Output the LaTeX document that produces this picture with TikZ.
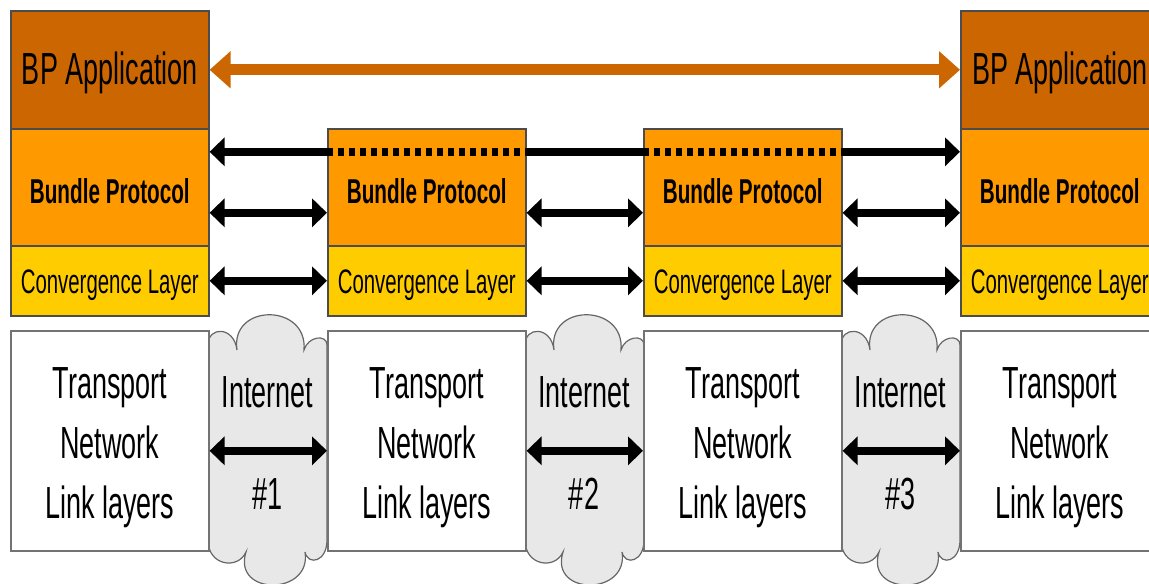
\documentclass[tikz,border=0pt]{standalone}
\usepackage{fontspec}
\setmainfont{Liberation Sans}[FakeStretch=0.6]
\usetikzlibrary{arrows.meta}

\definecolor{appbrown}{HTML}{CC6600}
\definecolor{bporange}{HTML}{FF9900}
\definecolor{clyellow}{HTML}{FFCC00}
\definecolor{cloudgray}{HTML}{E8E8E8}

\tikzset{
    layer/.style = {draw = black!70, line width = 0.8pt, anchor = north west,
        inner sep = 0pt, minimum width = 99pt},
    appbox/.style = {layer, fill = appbrown, minimum height = 59pt,
        text height = 15pt, text depth = 0pt,
        font = \fontsize{22.5}{27}\selectfont},
    bpbox/.style = {layer, fill = bporange, minimum height = 58.5pt,
        text height = 16pt, text depth = 0pt,
        font = \fontsize{17.25}{20}\selectfont\bfseries},
    clbox/.style = {layer, fill = clyellow, minimum height = 35pt,
        text height = 13pt, text depth = 0pt,
        font = \fontsize{17}{20}\selectfont},
    netbox/.style = {layer, fill = white, draw = black!55, minimum height = 110pt,
        align = center, font = \fontsize{22.5}{30}\selectfont},
    netcloud/.style = {fill = cloudgray, draw = black!60, line width = 0.6pt},
    nettext/.style = {font = \fontsize{22.5}{27}\selectfont},
    wire/.style = {line width = 4pt},
    link/.style = {wire, <->},
    dotwire/.style = {wire, dash pattern = on 2.75pt off 2.75pt},
    apparrow/.style = {draw = appbrown, line width = 5.5pt,
        {Triangle[length=10.5pt,width=18pt]}-{Triangle[length=10.5pt,width=18pt]}}
}

\begin{document}
\begin{tikzpicture}[x = 0.5pt, y = -0.5pt, >={Triangle[length=7.5pt,width=14pt]}]
    \useasboundingbox (0,0) rectangle (1149,583);
    \clip (0,0) rectangle (1149,583);

    % the three internets, behind the link layer boxes
    \foreach \x in {208,525,841} {
        \draw[netcloud] (\x,345) .. controls (\x,326) and (\x+26,326) .. (\x+29,350)
            .. controls (\x+22,303) and (\x+100,303) .. (\x+96,350)
            .. controls (\x+100,336) and (\x+119,334) .. (\x+119,345)
            -- (\x+119,540)
            .. controls (\x+119,562) and (\x+100,566) .. (\x+97,552)
            .. controls (\x+104,596) and (\x+24,596) .. (\x+38,552)
            .. controls (\x+30,570) and (\x,566) .. (\x,540) -- cycle;
    }

    % protocol stacks
    \node[appbox] (app1) at (10,10) {BP Application};
    \node[appbox] (app4) at (960,10) {BP Application};
    \foreach \i/\x in {1/10,2/327,3/643,4/960} {
        \node[bpbox] (bp\i) at (\x,128) {Bundle Protocol};
        \node[clbox] (cl\i) at (\x,245) {Convergence Layer};
        \node[netbox] (tn\i) at (\x,330) {\rule{0pt}{22.5pt}Transport\\Network\\Link layers};
    }

    \foreach \i/\cx in {1/267.5,2/584,3/900.5} {
        \node[nettext] (inet\i) at (\cx,392) {Internet};
        \node[nettext] (num\i) at (\cx,494) {\#\i};
    }

    % end to end
    \draw[apparrow] (app1) -- (app4);
    \draw[wire, <-] ([yshift=17.75pt]bp1.east) -- ([yshift=17.75pt]bp2.west);
    \draw[dotwire] ([yshift=17.75pt]bp2.west) -- ([yshift=17.75pt]bp2.east);
    \draw[wire] ([yshift=17.75pt]bp2.east) -- ([yshift=17.75pt]bp3.west);
    \draw[dotwire] ([yshift=17.75pt]bp3.west) -- ([yshift=17.75pt]bp3.east);
    \draw[wire, ->] ([yshift=17.75pt]bp3.east) -- ([yshift=17.75pt]bp4.west);

    % hop by hop
    \foreach \a/\b in {1/2,2/3,3/4} {
        \draw[link] ([yshift=-12.75pt]bp\a.east) -- ([yshift=-12.75pt]bp\b.west);
        \draw[link] (cl\a) -- (cl\b);
        \draw[link] ([yshift=-5pt]tn\a.east) -- ([yshift=-5pt]tn\b.west);
    }
\end{tikzpicture}
\end{document}
